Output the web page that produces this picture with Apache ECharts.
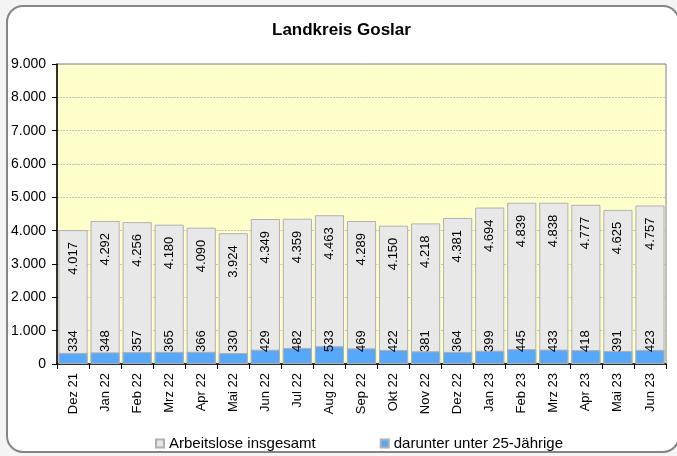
<!DOCTYPE html>
<html>
<head>
<meta charset="utf-8">
<script src="https://cdn.jsdelivr.net/npm/echarts@6/dist/echarts.min.js"></script>
<style>
  html, body { margin: 0; padding: 0; background: #f4f4f4; }
  #main { width: 677px; height: 456px; }
</style>
</head>
<body>
<div id="main"></div>
<script>
// Monate
var months = ['Dez 21', 'Jan 22', 'Feb 22', 'Mrz 22', 'Apr 22', 'Mai 22', 'Jun 22', 'Jul 22', 'Aug 22',
  'Sep 22', 'Okt 22', 'Nov 22', 'Dez 22', 'Jan 23', 'Feb 23', 'Mrz 23', 'Apr 23', 'Mai 23', 'Jun 23'];
// Arbeitslose insgesamt
var totalArr = [4017, 4292, 4256, 4180, 4090, 3924, 4349, 4359, 4463,
  4289, 4150, 4218, 4381, 4694, 4839, 4838, 4777, 4625, 4757];
// darunter unter 25-Jährige
var youngArr = [334, 348, 357, 365, 366, 330, 429, 482, 533,
  469, 422, 381, 364, 399, 445, 433, 418, 391, 423];

// 4017 -> 4.017
function fmt(v) {
  return String(v).replace(/\B(?=(\d{3})+(?!\d))/g, '.');
}

var chartDom = document.getElementById('main');
var myChart = echarts.init(chartDom);
var option;
var font = 'Liberation Sans, Arial, sans-serif';

option = {
  backgroundColor: '#f4f4f4',
  textStyle: { fontFamily: font },
  graphic: [
    {
      type: 'rect',
      z: -10,
      shape: { x: 7, y: 6, width: 672, height: 446, r: 16 },
      style: { fill: '#ffffff', stroke: '#858585', lineWidth: 2 }
    }
  ],
  title: {
    text: 'Landkreis Goslar',
    left: 272,
    top: 22,
    padding: 0,
    textStyle: { fontFamily: font, fontSize: 17, fontWeight: 'bold', color: '#000' }
  },
  legend: {
    top: 431,
    left: 150,
    itemWidth: 8,
    itemHeight: 8,
    itemGap: 64,
    icon: 'rect',
    textStyle: { fontFamily: font, fontSize: 15, color: '#000' },
    data: ['Arbeitslose insgesamt', 'darunter unter 25-Jährige']
  },
  grid: {
    left: 57,
    right: 11,
    top: 64,
    bottom: 92,
    show: true,
    backgroundColor: '#FFFFCC',
    borderColor: '#808080',
    borderWidth: 1
  },
  xAxis: {
    type: 'category',
    data: months,
    axisLine: { lineStyle: { color: '#000', width: 1.5 } },
    axisTick: { show: true, length: 5, lineStyle: { color: '#000' } },
    axisLabel: {
      rotate: 90,
      interval: 0,
      margin: 9,
      fontSize: 13,
      color: '#000',
      fontFamily: font
    }
  },
  yAxis: {
    type: 'value',
    min: 0,
    max: 9000,
    interval: 1000,
    axisLine: { show: true, lineStyle: { color: '#000', width: 1.5 } },
    axisTick: { show: true, length: 5, lineStyle: { color: '#000' } },
    axisLabel: {
      fontSize: 14,
      color: '#000',
      margin: 11,
      fontFamily: font,
      formatter: function (v) { return fmt(v); }
    },
    splitLine: {
      show: true,
      lineStyle: { color: '#b4b4b4', type: [2, 1], width: 0.8 }
    }
  },
  series: [
    {
      name: 'Arbeitslose insgesamt',
      type: 'bar',
      barCategoryGap: '9%',
      itemStyle: { color: '#E8E8E8', borderColor: '#B0B0B0', borderWidth: 1 },
      label: {
        show: true,
        position: 'insideTop',
        distance: 12,
        rotate: 90,
        align: 'right',
        verticalAlign: 'middle',
        fontSize: 13,
        color: '#000',
        fontFamily: font,
        formatter: function (p) { return fmt(p.value); }
      },
      data: totalArr
    },
    {
      name: 'darunter unter 25-Jährige',
      type: 'bar',
      barGap: '-100%',
      barCategoryGap: '9%',
      itemStyle: { color: '#58A8FA', borderColor: '#B0B0B0', borderWidth: 1 },
      label: {
        show: true,
        position: 'insideBottom',
        distance: 12,
        rotate: 90,
        align: 'left',
        verticalAlign: 'middle',
        fontSize: 13,
        color: '#000',
        fontFamily: font
      },
      data: youngArr
    }
  ]
};
option && myChart.setOption(option);
</script>
</body>
</html>
